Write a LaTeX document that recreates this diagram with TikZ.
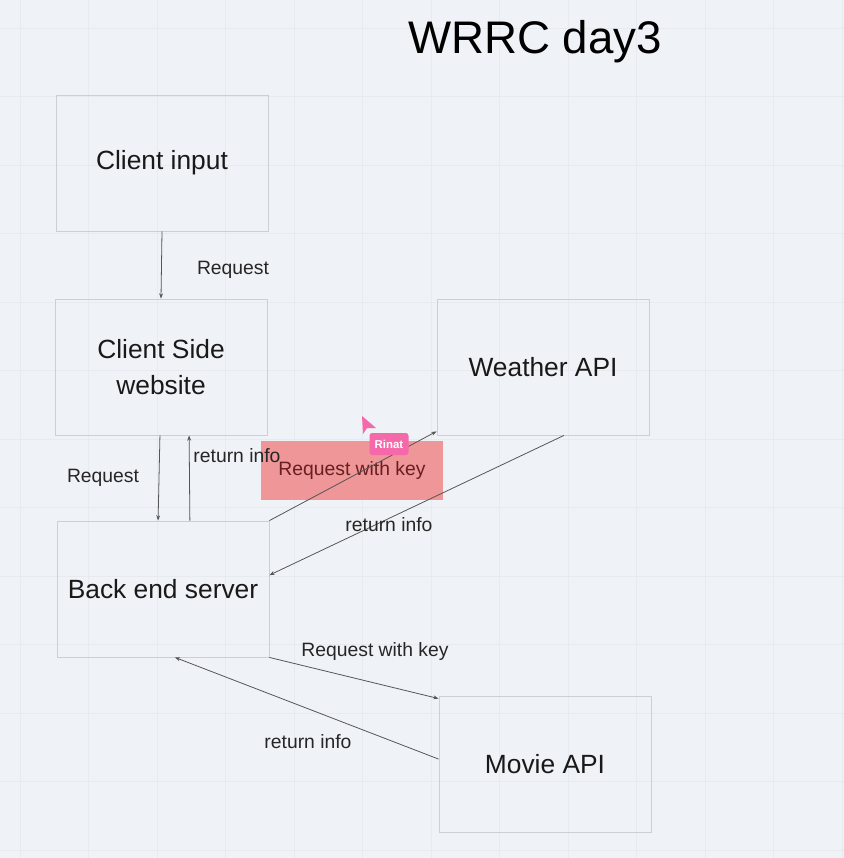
\documentclass[tikz,border=0pt]{standalone}
\usepackage{fontspec}
\setmainfont{Liberation Sans}
\usepackage{tikz}
\usetikzlibrary{arrows.meta,backgrounds,calc}
\definecolor{boardbg}{RGB}{239,242,246}
\definecolor{gridcol}{RGB}{231,235,240}
\definecolor{boxline}{RGB}{204,207,211}
\definecolor{linkcol}{RGB}{85,85,85}
\definecolor{hilite}{RGB}{238,150,152}
\definecolor{hilitetext}{RGB}{105,30,32}
\definecolor{cursorpink}{RGB}{245,105,170}
\tikzset{
  card/.style={draw=boxline,line width=0.5pt,minimum width=4.24cm,minimum height=2.72cm,inner sep=0pt,align=center,font=\fontsize{15}{20.5}\selectfont,text=black!90},
  link/.style={draw=linkcol,line width=0.45pt,-{Stealth[length=3pt,width=2.2pt]}},
  tag/.style={font=\fontsize{11}{13}\selectfont,text=black!85,inner sep=0pt}
}
\begin{document}
\begin{tikzpicture}[x=0.02cm,y=-0.02cm]
\fill[boardbg] (0,0) rectangle (844,858);
\useasboundingbox (0,0) rectangle (844,858);
\foreach \k in {0,...,12} {
  \draw[gridcol,line width=0.35pt] ({20+68.5*\k},0) -- ({20+68.5*\k},858);
  \draw[gridcol,line width=0.35pt] (0,{28+68.5*\k}) -- (844,{28+68.5*\k});
}
\node[font=\fontsize{26}{30}\selectfont] (title) at (535,42) {WRRC day3};
\node[card] (input) at (162,163) {\raisebox{-1.5pt}{Client input}};
\node[card] (website) at (161,367) {Client Side\\website};
\node[card] (weather) at (543,367) {Weather API};
\node[card] (backend) at (163,589) {Back end server};
\node[card] (movie) at (545,764) {Movie API};
\fill[hilite] (261,441) rectangle (443,500);
\node[tag,text=hilitetext] (reqweather) at (352,470) {Request with key};
\draw[link] (input.south) -- (website.north);
\draw[link] ([xshift=-0.6pt]website.south) -- ([xshift=-2.8pt]backend.north);
\draw[link] ([xshift=15.3pt]backend.north) -- ([xshift=16pt]website.south);
\draw[link] (backend.north east) -- ([yshift=2.3pt]weather.south west);
\draw[link] ([xshift=11.9pt]weather.south) -- ([yshift=7.9pt]backend.east);
\draw[link] (backend.south east) -- ([yshift=-1.7pt]movie.north west);
\draw[link] ([yshift=2.8pt]movie.west) -- ([xshift=6.8pt]backend.south);
\node[tag] (reqinput) at (233,270) {Request};
\node[tag] (reqsite) at (103,478) {Request};
\node[tag] (retsite) at (237,456) {return info};
\node[tag] (retweather) at (389,525) {return info};
\node[tag] (reqmovie) at (375,651) {Request with key};
\node[tag] (retmovie) at (308,742) {return info};
\fill[cursorpink] (362,416) -- (363,434) -- (367,428) -- (376,428) -- cycle;
\node[fill=cursorpink,rounded corners=1.5pt,minimum width=0.78cm,minimum height=0.44cm,inner sep=0pt,text=white,font=\fontsize{6.5}{8}\selectfont\bfseries] (rinat) at (389,444) {Rinat};
\end{tikzpicture}
\end{document}
